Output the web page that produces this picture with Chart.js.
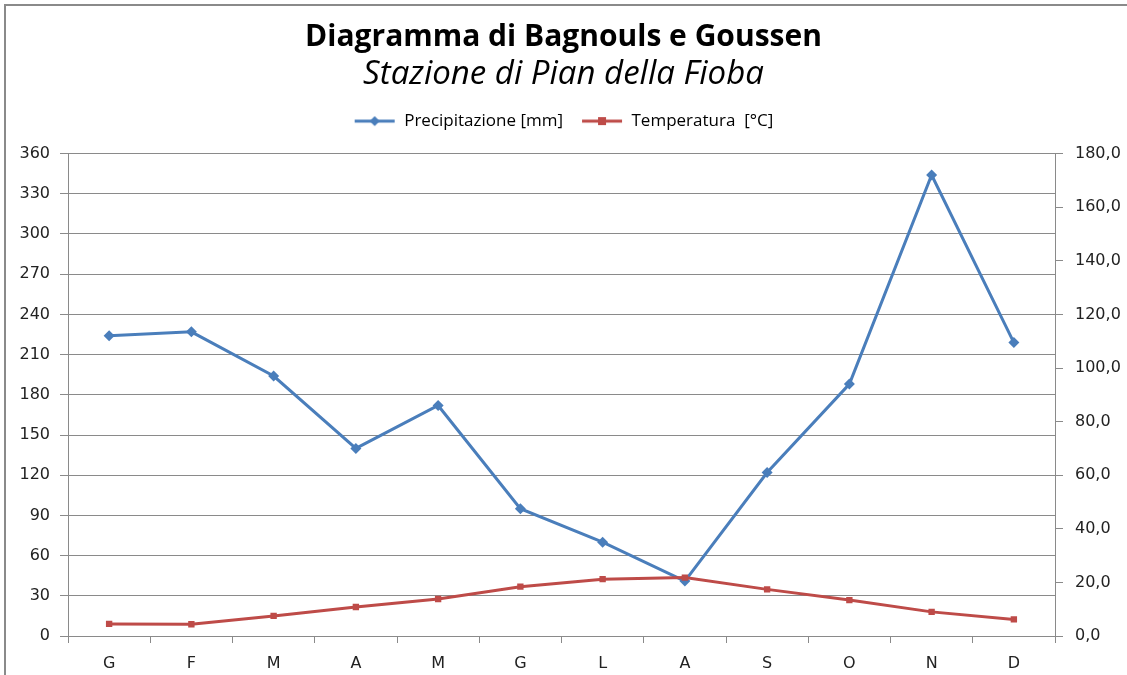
<!DOCTYPE html>
<html>
<head>
<meta charset="utf-8">
<script src="https://cdn.jsdelivr.net/npm/chart.js@4"></script>
<style>
  html, body { margin: 0; padding: 0; background: #fff; }
  #wrap { position: relative; width: 1127px; height: 675px; overflow: hidden; }
  #frame { position: absolute; left: 4px; top: 4px; right: -10px; bottom: -10px;
           border-top: 2px solid #8a8a8a; border-left: 2px solid #8a8a8a; }
  #myChart { position: absolute; left: 0; top: 0; }
</style>
</head>
<body>
<div id="wrap">
  <div id="frame"></div>
  <canvas id="myChart" width="1127" height="675"></canvas>
</div>
<script>
// mesi
var months = ["G", "F", "M", "A", "M", "G", "L", "A", "S", "O", "N", "D"];

// precipitazione mensile [mm] - asse sinistro
var precip = [224, 227, 194, 140, 172, 95, 70, 41, 122, 188, 344, 219];

// temperatura media mensile [°C] - asse destro
var temp = [4.5, 4.4, 7.5, 10.8, 13.8, 18.4, 21.2, 21.8, 17.4, 13.4, 9.0, 6.2];

// etichette degli assi
var leftTicks = [0, 30, 60, 90, 120, 150, 180, 210, 240, 270, 300, 330, 360];
var rightTicks = [0, 20, 40, 60, 80, 100, 120, 140, 160, 180];

var blue = '#4a7ebb';
var red = '#be4b48';
var font = "'Open Sans', sans-serif";

// simbolo legenda: linea + marker
function legendIcon(color, shape) {
    var c = document.createElement('canvas');
    c.width = 42; c.height = 12;
    var g = c.getContext('2d');
    g.strokeStyle = color;
    g.lineWidth = 3;
    g.beginPath(); g.moveTo(1, 6); g.lineTo(41, 6); g.stroke();
    g.fillStyle = color;
    if (shape == 'diamond') {
        g.beginPath(); g.moveTo(21, 1); g.lineTo(26, 6); g.lineTo(21, 11); g.lineTo(16, 6); g.closePath(); g.fill();
    } else {
        g.fillRect(17, 2, 8, 8);
    }
    return c;
}

// spazio vuoto fra legenda e grafico
var spacer = {
    id: 'spacer',
    beforeInit: function(chart) {
        Chart.layouts.addBox(chart, {
            position: 'top', weight: 500, fullSize: true, options: {},
            isHorizontal: function() { return true; },
            update: function(w, h) { this.width = w; this.height = 14; },
            draw: function() {}
        });
    }
};

var data = {
    labels: months,
    datasets: [
        {
            label: "Precipitazione [mm]",
            data: precip,
            yAxisID: 'y',
            borderColor: blue,
            backgroundColor: blue,
            borderWidth: 3,
            pointStyle: 'rectRot',
            pointRadius: 5.5,
            pointBorderWidth: 0,
            tension: 0,
            order: 2
        },
        {
            label: "Temperatura  [°C]",
            data: temp,
            yAxisID: 'y1',
            borderColor: red,
            backgroundColor: red,
            borderWidth: 3,
            pointStyle: 'rect',
            pointRadius: 4.5,
            pointBorderWidth: 0,
            tension: 0,
            order: 1
        }
    ]
};

var icons = [legendIcon(blue, 'diamond'), legendIcon(red, 'square')];

var tickFont = { family: "'DejaVu Sans', Verdana, sans-serif", size: 16 };

var ctx = document.getElementById("myChart");
var myChart = new Chart(ctx, {
    type: 'line',
    data: data,
    plugins: [spacer],
    options: {
        responsive: false,
        animation: false,
        layout: { padding: { left: 0, right: 0, top: 16, bottom: 0 } },
        plugins: {
            title: {
                display: true,
                text: "Diagramma di Bagnouls e Goussen",
                color: '#000',
                font: { family: font, size: 30, weight: 'bold' },
                padding: { top: 3, bottom: 0 }
            },
            subtitle: {
                display: true,
                text: "Stazione di Pian della Fioba",
                color: '#000',
                font: { family: font, size: 33, style: 'italic' },
                padding: { top: 0, bottom: 0 }
            },
            legend: {
                display: true,
                labels: {
                    color: '#000',
                    font: { family: font, size: 17 },
                    usePointStyle: true,
                    pointStyleWidth: 42,
                    boxHeight: 12,
                    padding: 18,
                    generateLabels: function(chart) {
                        return chart.data.datasets.map(function(ds, i) {
                            return {
                                text: ds.label,
                                pointStyle: icons[i],
                                fillStyle: ds.borderColor,
                                strokeStyle: ds.borderColor,
                                lineWidth: 0,
                                datasetIndex: i,
                                fontColor: '#000'
                            };
                        });
                    }
                }
            },
            tooltip: { enabled: false }
        },
        scales: {
            x: {
                offset: true,
                afterFit: function(scale) { scale.height = 39; },
                grid: { display: true, drawOnChartArea: false, drawTicks: true, tickLength: 7, offset: true, color: '#8a8a8a' },
                border: { color: '#8a8a8a', width: 1 },
                ticks: { color: '#222', font: tickFont, padding: 11 }
            },
            y: {
                position: 'left',
                min: 0, max: 360,
                afterBuildTicks: function(scale) { scale.ticks = leftTicks.map(function(v) { return { value: v }; }); },
                afterFit: function(scale) { scale.width = 68; },
                grid: { color: '#8a8a8a', tickLength: 8, drawTicks: true },
                border: { color: '#8a8a8a' },
                ticks: { color: '#222', font: tickFont, padding: 10 }
            },
            y1: {
                position: 'right',
                min: 0, max: 180,
                afterBuildTicks: function(scale) { scale.ticks = rightTicks.map(function(v) { return { value: v }; }); },
                afterFit: function(scale) { scale.width = 72; },
                grid: { drawOnChartArea: false, color: '#8a8a8a', tickLength: 8 },
                border: { color: '#8a8a8a' },
                ticks: {
                    color: '#222', font: tickFont, padding: 12,
                    callback: function(v) { return v.toFixed(1).replace('.', ','); }
                }
            }
        }
    }
});
</script>
</body>
</html>
